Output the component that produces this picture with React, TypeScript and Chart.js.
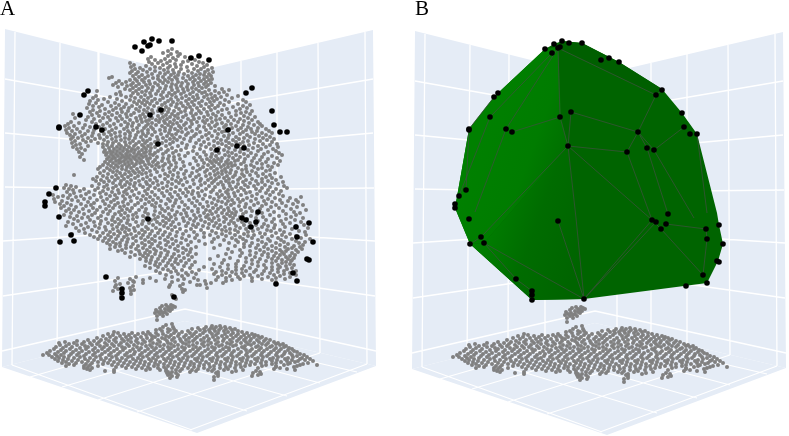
import React, { useEffect, useRef } from "react";
import { Chart, registerables } from "chart.js";

Chart.register(...registerables);

const WIDTH = 789;
const HEIGHT = 436;
const PANEL_SHIFT_X = 410;
const PANEL_SHIFT_Y = 2;

const panelLabels = ["A", "B"];

// Every row: first value is the height on the picture, the others are horizontal readings.
const treeRows: number[][] = [
[49,172],[51,168],[52,177],[53,163],[54,171,180],[56,168,178],[57,151,185],[58,173,190],[59,148,165],[60,155,176,195],
[61,161,170,188],[62,149,183,199],[63,130,158,167,203],[64,152,175,192],[65,134,163,181,207],[66,146,170,197],[67,131,155,176,187,204],[68,140,160,168,212],[69,135,150,181,194,201],[70,143,164,173,208],
[71,132,155,188,198],[72,138,147,168,179,205,213],[73,130,160,174,192],[74,136,152,165,184,200,209],[75,142,171,178,196,204],[76,133,148,158,188,211],[77,112,139,163,175,193,207],[78,109,145,153,169,183,199],[79,135,158,177,190,204,212],[80,130,142,165,172,195,209],
[81,119,137,149,160,186,201],[82,126,144,168,178,193,206],[83,116,133,155,163,182,198,211],[84,122,139,150,172,188,204],[85,113,131,146,158,176,194,208],[86,127,136,166,181,199,215],[87,118,142,153,171,187,206],[88,133,148,160,177,192,202],[89,125,139,165,183,196,222],[90,130,152,172,188,209,229],
[91,97,136,146,158,178,199,215],[92,120,142,163,184,193,205,224],[93,133,150,169,175,202,219],[94,116,138,156,181,190,211],[95,121,145,161,172,197,207,227],[96,96,131,151,167,186,215,238],[97,110,126,141,176,193,204,221],[98,93,135,148,163,182,198,212,232],[99,104,117,155,171,189,208,217],[100,98,130,144,160,178,195,225,243],
[101,90,122,139,152,168,186,202,214],[102,108,134,147,173,192,210,229,246],[103,96,115,142,157,165,181,199,220],[104,89,126,137,150,177,188,206,238],[105,102,119,145,162,171,194,212,224,250],[106,93,111,132,154,183,201,218,243],[107,99,124,140,166,176,190,209,233],[108,87,116,129,148,159,186,197,215,247],[109,105,121,136,169,179,204,227,240],[110,93,113,144,152,164,192,211,222],
[111,100,128,139,158,174,185,199,236,252],[112,90,109,122,147,168,181,207,218,246],[113,97,117,134,153,162,191,201,229,241],[114,73,105,126,143,172,178,196,213,250],[115,92,112,131,150,166,186,208,222,236],[116,99,120,140,158,175,193,216,244],[117,88,108,127,145,163,170,183,204,231,255],[118,75,103,116,136,152,178,199,211,225,248],[119,94,122,141,160,167,188,194,220,240],[120,86,110,130,149,156,174,207,216,234,252],
[121,100,118,137,146,164,181,191,203,228,244],[122,71,92,125,142,159,170,197,212,238,258],[123,79,107,133,152,165,177,186,205,222,249],[124,68,96,114,128,148,173,192,217,231,260],[125,85,103,121,139,156,168,184,209,226,243,254],[126,65,74,110,132,146,162,179,199,215,236,262],[127,90,99,127,151,171,190,204,224,248],[128,69,83,116,137,144,165,181,211,232,241,258],[129,77,105,124,153,175,186,197,219,229,251,266],[130,66,94,112,133,148,160,170,206,238,246],
[131,72,88,101,128,142,165,178,192,215,225,257,269],[132,80,109,120,138,155,182,200,222,243,252],[133,67,93,115,130,148,169,188,209,233,262,272],[134,75,85,104,125,143,161,176,196,218,240,255],[135,70,99,111,136,152,172,186,206,229,247,266],[136,82,92,120,130,146,167,194,212,224,259],[137,73,107,116,141,157,180,202,236,250,270],[138,78,88,100,125,135,163,174,191,217,228,244,263],[139,71,95,112,129,150,170,184,208,239,255,274],[140,83,104,121,143,158,177,199,221,233,267],
[141,75,91,116,133,147,166,190,214,226,248,260],[142,86,108,125,139,155,173,204,236,243,272],[143,72,98,113,130,145,162,182,196,218,229,254],[144,80,103,119,136,151,170,209,222,240,263,277],[145,76,107,126,142,157,187,201,232,249,270],[146,88,112,121,134,148,166,178,214,226,244,258],[147,73,103,117,129,144,155,194,206,236,266,278],[148,81,109,124,138,151,172,186,219,229,253],[149,77,114,120,132,146,161,200,211,241,261,273],[150,85,105,127,135,142,168,181,224,235,248],
[151,110,117,123,131,150,158,176,193,215,258,276],[152,79,104,113,128,139,146,166,204,228,240,268],[153,107,120,134,144,155,173,188,219,232,251,279],[154,82,111,116,126,138,150,163,197,212,244,264],[155,106,122,130,141,153,179,206,225,236,256,282],[156,113,118,127,136,146,169,185,216,229,248,272],[157,80,109,124,133,143,157,174,200,211,240,262],[158,115,121,129,139,150,163,194,222,233,254,277],[159,107,112,126,135,147,168,180,207,218,245,268],[160,84,119,131,141,155,174,202,214,228,238,260],
[161,110,116,124,137,148,162,196,210,221,235,252,280],[162,105,121,128,143,153,169,183,216,226,244,266],[163,113,119,132,140,158,176,204,212,231,257,274],[164,108,125,136,149,165,190,219,228,241,262],[165,103,116,129,145,156,171,198,208,224,235,251,278],[166,111,122,134,152,163,184,214,232,246,268],[167,100,118,127,141,159,176,203,221,228,254,272],[168,107,114,131,147,169,193,211,238,262],[169,98,122,137,155,181,200,217,225,246,258],[170,110,126,143,163,174,207,231,242,270],
[171,104,117,133,150,186,197,214,222,252,266],[172,113,129,139,157,170,205,226,236,247],[173,100,120,135,146,178,192,218,230,256,275],[174,108,125,142,165,184,210,222,242,263],[175,74,116,131,151,173,199,215,235,250,270],[176,103,122,138,160,168,190,206,227,244,258],[177,97,112,128,147,178,196,219,233,266,281],[178,107,118,135,155,185,211,224,240,272],[179,93,124,143,165,172,201,216,229,252,262],[180,101,115,131,150,181,193,208,238,246,276],
[181,96,109,121,139,157,176,200,214,226,256,268],[182,104,127,146,168,187,221,233,243,262,283],[183,113,135,153,162,179,205,212,229,250,272],[184,99,120,130,147,172,194,218,238,258,278],[185,66,107,125,140,158,183,201,223,245,265],[186,71,92,116,134,150,167,209,230,254,284],[187,76,104,122,143,176,190,215,236,248,270],[188,64,98,113,129,155,163,198,224,241,262,287],[189,69,84,108,136,148,171,186,206,232,256,276],[190,73,95,118,126,159,180,213,228,244,268],
[191,80,103,132,145,167,193,202,220,238,260,281],[192,67,89,112,124,152,175,188,211,226,250,273],[193,74,100,119,139,162,183,198,234,246,266],[194,86,106,127,147,170,192,217,228,257,279],[195,53,70,94,115,134,155,178,205,222,241,270],[196,63,81,110,123,143,164,186,199,235,252,283],[197,58,76,101,130,150,172,210,219,229,262,301],[198,68,90,117,137,158,180,194,225,247,275,290],[199,54,84,107,125,146,168,203,214,238,256,268],[200,72,97,114,141,153,176,189,232,243,280,296],
[201,62,78,103,131,161,170,197,218,228,251,264,288],[202,55,88,111,123,149,182,207,222,240,272,298],[203,67,94,118,138,156,175,192,212,234,258,282],[204,60,81,105,128,145,166,200,226,246,266,293],[205,71,91,115,135,152,185,216,231,254,276,303],[206,64,86,109,124,160,173,195,208,239,262,286],[207,76,100,120,142,155,179,203,221,245,271,297],[208,61,93,113,132,168,188,213,228,250,279],[209,69,83,106,127,146,162,198,218,234,260,291],[210,74,97,122,139,172,184,206,224,241,268,306],
[211,66,89,110,130,155,165,192,210,229,252,283],[212,79,103,119,145,177,198,216,236,246,274,294],[213,71,95,125,136,160,186,204,222,232,262,300],[214,84,108,115,148,169,181,212,227,243,257,286],[215,64,92,121,133,154,175,194,208,235,270,296],[216,77,101,128,143,163,187,200,218,230,251,279],[217,70,88,113,137,158,171,206,224,240,263,291],[218,82,98,124,146,166,183,196,214,233,256,303],[219,74,106,118,133,155,176,190,209,226,247,274,286],[220,90,112,128,151,169,201,219,238,266,295],
[221,78,101,121,143,163,184,194,212,231,258,281],[222,68,94,115,136,157,173,205,224,242,272,301],[223,86,108,127,149,166,188,216,234,250,290],[224,73,100,119,142,160,179,198,209,229,264,283],[225,81,112,130,153,171,193,220,244,256,275,304],[226,66,95,123,138,164,186,203,214,236,268,296],[227,88,105,117,146,175,196,225,249,262,285],[228,76,99,126,134,156,168,208,218,240,274,308],[229,84,113,122,148,180,191,230,246,258,292],[230,92,106,129,142,160,172,201,222,235,267,280],
[231,79,118,135,152,186,212,226,253,271,299],[232,97,110,125,145,165,177,194,238,248,284,305],[233,85,103,120,139,158,204,216,230,260,276],[234,72,114,131,150,170,183,222,244,265,290],[235,90,108,127,143,163,197,210,235,254,282,306],[236,100,118,136,155,176,189,226,248,272,296],[237,94,111,124,148,168,204,218,240,262,286],[238,105,133,141,160,182,195,232,252,278,301],[239,98,116,128,152,172,214,243,268,292,310],[240,109,122,145,165,186,224,236,258,281],
[241,103,136,155,176,199,246,270,296],[242,113,127,149,168,191,212,238,262,284,305],[243,107,120,142,160,181,229,252,276,299],[244,116,133,152,173,205,244,266,288],[245,110,126,145,166,188,220,258,280,303],[246,120,138,158,178,235,250,272,294],[247,115,131,150,170,196,244,264,285,300],[248,126,143,161,183,214,256,276,292],[249,110,136,154,175,191,228,268,288,302],[250,122,147,165,186,240,260,280,296],
[251,118,139,156,178,250,272,286],[252,131,150,168,190,232,264,282,298],[253,125,145,161,183,242,256,276,292],[254,140,155,174,196,226,268,284],[255,135,148,167,188,250,262,280,295],[256,143,160,179,218,240,274,290],[257,130,152,172,192,255,268,286],[258,146,165,184,230,246,278,294],[259,140,158,176,210,260,272,288],[260,151,170,189,224,252,282,292],
[261,146,163,181,238,266,276,291],[262,156,175,195,246,258,286],[263,150,168,186,222,272,282],[264,160,178,214,236,252,290],[265,155,172,192,228,264,278,294],[266,145,166,184,244,258,286],[267,158,204,220,236,272,280],[268,150,174,190,250,266,292],[269,163,212,228,242,278,287],[270,168,182,199,236,256,272],
[271,156,176,222,246,264,284,296],[272,171,192,216,232,254,278],[273,160,186,226,242,270,290],[274,178,196,214,236,262,284],[275,166,188,222,250,274,296],[276,182,230,244,258,280],[277,136,172,218,238,268,290],[278,118,150,194,226,252,276],[279,130,165,184,240,262,285],[280,143,178,198,216,232,272],
[281,115,133,156,205,226,252],[282,134,172,190,276],[283,128,143,211,223],[284,120,183,206],[285,116,170,197,200],[286,133,180],[287,115,169],[288,130,207],[289,118,182],[290,134,185],
[291,113,131],[292,183],[294,131],[295,172],[296,121],[299,176],
];

const trunkRows: number[][] = [
[305,166,171],[306,162,173],[307,168,175],[308,160,170],[309,165,172],[310,156,168],[311,161,170],[312,158,165],[313,155,163],[314,160,167],
[316,157,163],[320,157],[324,172],[325,166],[327,163,173],[329,160,168,174],
];

const groundRows: number[][] = [
[326,212,220],[327,206,216,225],[328,198,211,221,230],[329,192,204,214,226,235],[330,156,170,200,209,219,232],[331,162,176,188,205,215,224,238],[332,114,148,168,182,196,210,228,242],
[333,118,132,143,156,174,190,203,218,233,247],[334,108,124,138,150,163,179,194,212,225,238,252],[335,113,129,146,158,171,186,200,216,231,244,255],[336,103,120,135,152,166,178,192,207,222,236,249,258],
[337,110,126,141,155,169,184,197,213,227,241,254,262],[338,97,116,131,147,162,174,189,204,218,233,246,260],[339,106,122,137,152,165,180,195,209,224,239,251,266],[340,88,101,114,128,143,158,172,186,201,215,230,244,257,270],
[341,77,94,109,124,136,150,167,181,193,208,223,237,250,264],[342,65,84,99,116,131,145,160,175,189,204,218,232,246,259,274],[343,59,74,90,105,121,138,153,168,183,197,211,227,241,254,268,278],[344,69,82,97,112,127,142,157,171,186,202,216,230,248,262,276,283],
[345,60,77,92,107,119,134,150,164,178,193,208,222,236,251,266,280],[346,66,85,100,114,129,146,160,174,189,204,219,233,245,258,272,286],[347,56,72,88,104,122,137,152,168,182,196,212,226,242,256,270,284],[348,63,80,95,110,125,141,156,171,185,200,215,229,244,261,276,289],
[349,54,70,86,102,117,133,148,163,178,193,208,223,238,252,267,281,292],[350,61,76,93,108,123,139,154,169,184,198,214,229,246,259,274,288],[351,50,66,82,98,114,130,145,160,175,190,205,220,234,250,264,279,294],[352,58,73,89,105,120,135,151,166,181,196,211,226,241,256,271,285,297],
[353,47,64,79,95,111,127,142,157,172,187,202,217,232,247,262,277,290],[354,55,71,86,102,118,134,149,164,179,194,209,224,239,254,269,284,300],[355,43,49,61,77,93,109,125,140,155,170,185,200,216,231,246,261,276,292,304],[356,57,69,84,100,116,131,147,162,177,192,207,222,237,252,267,282,297],
[357,52,64,80,96,112,128,143,158,173,188,203,218,233,248,263,278,293,307],[358,59,74,90,106,122,138,153,168,183,198,213,228,243,258,273,288,302],[359,55,68,85,101,117,133,149,164,179,195,210,225,240,255,270,285,300,310],[360,63,78,94,110,126,141,156,171,187,202,217,232,247,262,277,292,305],
[361,58,72,88,104,120,136,151,166,181,197,212,227,242,257,272,287,298,313],[362,66,82,98,114,130,145,160,175,191,206,221,236,251,266,281,295],[363,62,76,92,108,124,140,155,170,185,200,216,231,246,261,276,290,308],[364,69,86,103,118,134,149,164,179,194,209,225,240,255,272,288,303],
[365,74,90,112,128,144,158,174,190,204,220,236,250,266,284,300,317],[366,66,84,98,122,138,154,168,184,199,214,230,245,262,276,297],[367,88,116,132,148,164,178,194,210,226,241,276,294],[368,84,92,126,142,158,172,188,204,220,235,258,280],
[369,87,136,150,166,182,198,214,228,274,287],[370,90,114,146,160,176,192,208,224,243,295],[371,105,166,180,196,212,236,256],[372,114,168,172,190,218,232,260],[373,167,176,216,253],[374,170,218,261],[375,168,178,258],[376,172,218,252],[377,177,214],[378,170],[380,214],
];

// Black readings, given in the frame of panel A.
const blackX = [135,144,152,159,172,148,150,142,191,199,209,252,246,272,274,280,287,228,237,244,217,158,161,150,80,96,102,59,59,84,88,56,49,45,45,59,258,242,246,256,251,148,309,296,297,313,307,309,293,297,276,174,122,122,122,106,71,74,60];
const blackY = [47,42,39,41,41,46,45,51,58,56,60,88,93,111,125,132,132,130,146,148,150,144,110,115,115,127,130,127,128,95,91,188,194,202,206,217,212,218,220,222,227,219,223,227,237,242,259,260,273,281,284,297,289,293,298,277,235,241,242];

const wallLeft = [[5,29],[185,74],[185,321],[2,367]];
const wallRight = [[373,30],[185,74],[185,321],[376,366]];
const floorShape = [[2,367],[185,321],[376,366],[197,433]];

const wallGrid = [
  [5,79,185,111],[5,133,185,150],[5,187,185,190],[3,241,185,229],[3,296,185,269],[2,351,185,309],
  [373,79,185,111],[373,133,185,150],[374,188,185,190],[375,241,185,229],[375,296,185,269],[376,351,185,309],
  [15,32,12,365],[60,43,57,353],[99,52,98,343],[135,61,135,334],
  [207,69,207,326],[241,61,241,334],[277,52,277,343],[318,43,320,353],[365,32,367,364],
];
const floorGrid = [
  [12,365,192,430],[57,353,247,411],[98,343,287,396],[135,334,320,383],[163,327,357,372],
  [367,364,190,430],[320,353,137,412],[277,343,98,400],[241,334,62,387],[207,326,30,377],
];

// Hull in panel B's own picture frame.
const hullOutline = [[545,49],[554,44],[562,41],[582,43],[619,62],[662,89],[682,113],[697,134],[717,213],[719,225],[723,244],[718,261],[707,283],[584,299],[532,300],[470,244],[455,208],[469,129],[494,97],[498,93]];
const hullLitFace = [[545,49],[558,47],[561,117],[568,146],[484,243],[470,244],[455,208],[469,129],[494,97],[498,93]];
const hullLowFace = [[568,146],[584,299],[532,300],[470,244],[484,243]];
const hullTopFace = [[558,47],[562,41],[582,43],[619,62],[662,89],[656,95]];
const hullEdges = [
  [558,48,560,117],[560,117,568,146],[571,112,568,146],[571,112,638,132],[638,132,627,152],[638,132,656,95],[638,132,654,150],
  [684,127,654,150],[558,48,656,95],[568,146,627,152],[568,146,652,220],[568,146,576,218],[576,218,584,299],[568,146,481,237],
  [560,117,512,132],[627,152,652,220],[647,148,668,214],[654,150,694,218],[697,134,707,213],[552,53,490,117],[558,48,506,129],
  [494,97,469,129],[484,243,584,299],[584,299,652,220],[584,299,558,221],[661,229,703,275],[666,224,706,229],[484,243,516,279],
  [516,279,532,291],[481,237,470,244],[469,130,466,190],[490,117,459,196],[506,129,475,212],[652,220,661,229],[707,239,703,275],
  [656,95,662,90],[656,222,584,299],[706,229,707,239],[638,132,647,148],
];

const fromRows = (rows: number[][]) =>
  rows.flatMap((row) => row.slice(1).map((x) => ({ x, y: row[0] })));
const toPoints = (pairs: number[][]) => pairs.map(([x, y]) => ({ x, y }));
const toSegments = (segs: number[][]) =>
  segs.flatMap(([a, b, c, d]) => [{ x: a, y: b }, { x: c, y: d }, { x: NaN, y: NaN }]);

const shape = (pairs: number[][], color: any, xAxisID = "x", yAxisID = "y") => ({
  type: "line" as const,
  data: toPoints(pairs),
  fill: "shape",
  backgroundColor: color,
  borderColor: color,
  borderWidth: 0,
  pointRadius: 0,
  tension: 0,
  xAxisID,
  yAxisID,
});
const lines = (segs: number[][], color: string, width: number, xAxisID = "x", yAxisID = "y") => ({
  type: "line" as const,
  data: toSegments(segs),
  fill: false,
  borderColor: color,
  borderWidth: width,
  pointRadius: 0,
  spanGaps: false,
  tension: 0,
  xAxisID,
  yAxisID,
});
const dots = (data: { x: number; y: number }[], color: string, radius: number, xAxisID = "x", yAxisID = "y") => ({
  type: "scatter" as const,
  data,
  showLine: false,
  backgroundColor: color,
  borderWidth: 0,
  pointRadius: radius,
  xAxisID,
  yAxisID,
});

export default function App() {
  const ref = useRef<HTMLCanvasElement>(null);
  useEffect(() => {
    const canvas = ref.current;
    if (!canvas) return;
    document.body.style.margin = "0";
    const ctx = canvas.getContext("2d")!;

    const lit = ctx.createLinearGradient(480, 130, 575, 165);
    lit.addColorStop(0, "#008000");
    lit.addColorStop(0.55, "#007c00");
    lit.addColorStop(1, "#006a00");
    const low = ctx.createLinearGradient(480, 225, 580, 260);
    low.addColorStop(0, "#008000");
    low.addColorStop(0.5, "#006c00");
    low.addColorStop(1, "#006400");

    const black = toPoints(blackX.map((x, i) => [x, blackY[i]]));
    const ground = fromRows(groundRows);
    const trunk = fromRows(trunkRows);
    const tree = fromRows(treeRows);

    const bottomToTop: any[] = [
      shape(wallLeft, "#e5ecf6"),
      shape(wallRight, "#e5ecf6"),
      shape(floorShape, "#e5ecf6"),
      shape(wallLeft, "#e5ecf6", "x2", "y2"),
      shape(wallRight, "#e5ecf6", "x2", "y2"),
      shape(floorShape, "#e5ecf6", "x2", "y2"),
      lines(wallGrid, "#ffffff", 1.3),
      lines(floorGrid, "#ffffff", 1.1),
      lines(wallGrid, "#ffffff", 1.3, "x2", "y2"),
      lines(floorGrid, "#ffffff", 1.1, "x2", "y2"),
      dots(ground, "#808080", 2),
      dots(trunk, "#808080", 2),
      dots(tree, "#808080", 2),
      dots(black, "#000000", 2.8),
      dots(ground, "#808080", 2, "x2", "y2"),
      dots(trunk, "#808080", 2, "x2", "y2"),
      shape(hullOutline, "#006400"),
      shape(hullLitFace, lit),
      shape(hullLowFace, low),
      shape(hullTopFace, "#005f00"),
      lines(hullEdges, "rgba(62,80,62,0.75)", 1),
      dots(black, "#000000", 2.8, "x2", "y2"),
    ];

    const hiddenX = { type: "linear" as const, display: false, min: 0, max: WIDTH };
    const hiddenY = { type: "linear" as const, display: false, min: 0, max: HEIGHT, reverse: true };

    const chart = new Chart(canvas, {
      type: "scatter",
      data: { datasets: bottomToTop.reverse() },
      options: {
        animation: false,
        responsive: false,
        events: [],
        layout: { padding: 0, autoPadding: false },
        plugins: { legend: { display: false }, tooltip: { enabled: false }, title: { display: false } },
        scales: {
          x: hiddenX,
          y: hiddenY,
          x2: { ...hiddenX, min: -PANEL_SHIFT_X, max: WIDTH - PANEL_SHIFT_X },
          y2: { ...hiddenY, min: -PANEL_SHIFT_Y, max: HEIGHT - PANEL_SHIFT_Y },
        },
      },
    } as any);
    return () => chart.destroy();
  }, []);

  const labelStyle = (left: number): React.CSSProperties => ({
    position: "absolute",
    left,
    top: -3,
    font: '21px "Liberation Serif", serif',
    lineHeight: "23px",
    color: "#000",
  });

  return (
    <div style={{ position: "absolute", left: 0, top: 0, width: WIDTH, height: HEIGHT }}>
      <canvas ref={ref} width={WIDTH} height={HEIGHT} style={{ display: "block" }} />
      <div style={labelStyle(0)}>{panelLabels[0]}</div>
      <div style={labelStyle(415)}>{panelLabels[1]}</div>
    </div>
  );
}
